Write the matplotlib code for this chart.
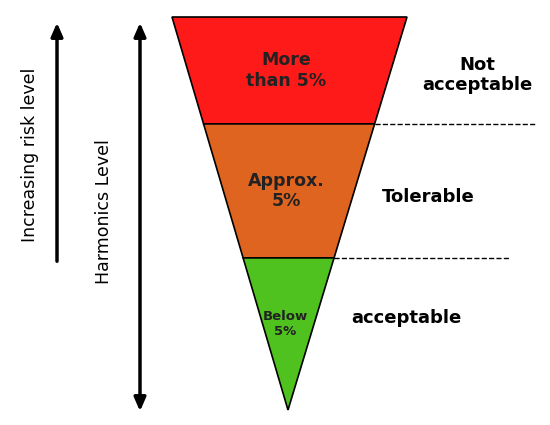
import matplotlib.pyplot as plt
from matplotlib.patches import Polygon

# levels from top of the funnel to the apex
inner_labels = ['More\nthan 5%', 'Approx.\n5%', 'Below\n5%']
outer_labels = ['Not\nacceptable', 'Tolerable', 'acceptable']
fill_colors = ['#ff1a1a', '#df6420', '#4fc21f']
# band edges as fraction of funnel height (0 = top, 1 = apex)
edges = [0.0, 0.272, 0.613, 1.0]
inner_sizes = [12.5, 12.5, 9.5]

top, apex_y = 17, 410
left, right, apex_x = 172, 407, 288

fig = plt.figure(figsize=(5.5, 4.25), dpi=100)
ax = fig.add_axes([0, 0, 1, 1])
ax.set_xlim(0, 550)
ax.set_ylim(425, 0)
ax.axis('off')


def side(f):
    y = top + f * (apex_y - top)
    return left + f * (apex_x - left), right - f * (right - apex_x), y


for i in range(3):
    l0, r0, y0 = side(edges[i])
    l1, r1, y1 = side(edges[i + 1])
    pts = [(l0, y0), (r0, y0), (r1, y1), (l1, y1)]
    ax.add_patch(Polygon(pts, closed=True, fc=fill_colors[i], ec='black', lw=1.2))
    cy = (y0 + y1) / 2 - (10 if i == 2 else 0)
    ax.text((l0 + r0 + l1 + r1) / 4 - 3, cy, inner_labels[i], ha='center', va='center',
            fontsize=inner_sizes[i], fontweight='bold', color='#222222')

# dashed separators
dash_ends = [535, 510]
for f, xe in zip(edges[1:3], dash_ends):
    _, r, y = side(f)
    ax.plot([r, xe], [y, y], ls='--', color='black', lw=1)

outer_pos = [(477, 75), (428, 197), (406, 318)]
for lab, (x, y) in zip(outer_labels, outer_pos):
    ax.text(x, y, lab, ha='center', va='center', fontsize=13, fontweight='bold')

# arrows
ax.annotate('', xy=(57, 20), xytext=(57, 264),
            arrowprops=dict(arrowstyle='-|>,head_width=0.35,head_length=0.8', color='black', lw=2.5))
ax.annotate('', xy=(140, 20), xytext=(140, 414),
            arrowprops=dict(arrowstyle='<|-|>,head_width=0.35,head_length=0.8', color='black', lw=2.5))
ax.text(30, 155, 'Increasing risk level', rotation=90, ha='center', va='center', fontsize=12.5)
ax.text(104, 212, 'Harmonics Level', rotation=90, ha='center', va='center', fontsize=12.5)

fig.savefig('out.png', dpi=100)
